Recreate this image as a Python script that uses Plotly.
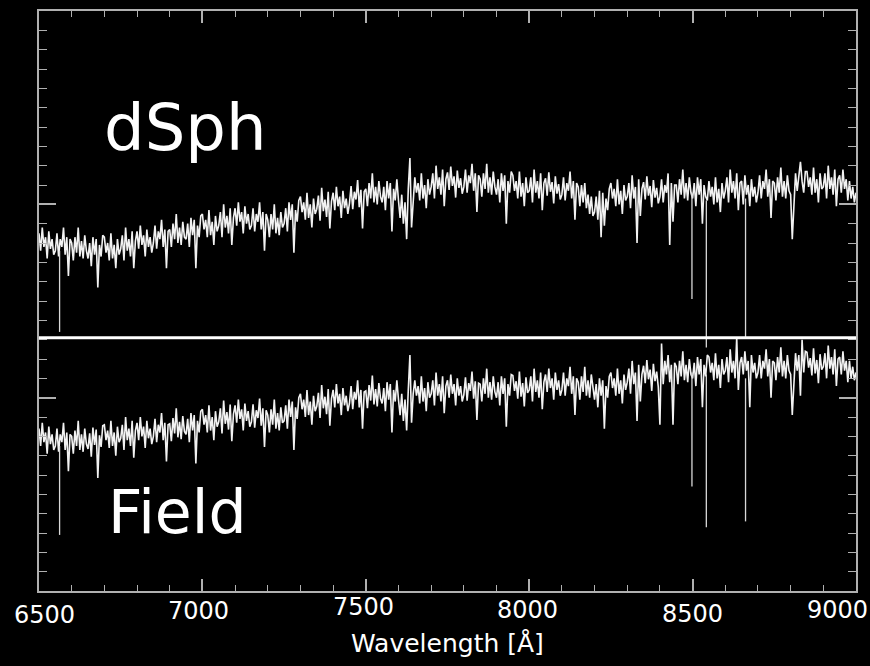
import numpy as np
import plotly.graph_objects as go

# ---- data: flux in offset units (dSph spectrum shifted above the Field one), 5 A sampling ----
wave_start, wave_step = 6500, 5
dsph_flux = [
    18.5, 17.6, 18.8, 17.8, 18.3, 17.2, 18.6, 17.7, 18.2, 17.4,
    17.6, 18.5, 17.3, 18.2, 17.8, 18.8, 17.4, 18.3, 16.3, 18.2,
    18.0, 17.1, 18.3, 17.5, 18.8, 17.3, 18.1, 17.2, 18.4, 17.6,
    17.2, 18.0, 16.8, 18.3, 17.4, 18.2, 15.7, 17.9, 17.3, 18.4,
    18.3, 17.5, 18.0, 17.1, 18.5, 17.2, 17.9, 16.7, 18.2, 17.4,
    17.7, 18.4, 17.1, 18.8, 17.6, 18.2, 17.3, 18.6, 16.7, 18.1,
    18.6, 17.7, 18.9, 17.9, 18.4, 17.3, 18.7, 17.8, 18.3, 17.5,
    18.0, 18.9, 17.7, 18.6, 18.2, 19.2, 17.8, 18.7, 16.7, 18.6,
    18.7, 17.8, 19.0, 18.2, 19.5, 18.0, 18.8, 17.9, 19.1, 18.3,
    18.2, 19.0, 17.8, 19.3, 18.4, 19.2, 16.7, 18.9, 18.3, 19.4,
    19.5, 18.7, 19.2, 18.3, 19.7, 18.4, 19.1, 17.9, 19.4, 18.6,
    18.9, 19.6, 18.3, 20.0, 18.8, 19.4, 18.5, 19.8, 17.9, 19.3,
    19.8, 18.9, 20.1, 19.1, 19.6, 18.5, 19.9, 19.0, 19.5, 18.7,
    18.9, 19.8, 18.6, 19.5, 19.1, 20.1, 18.7, 19.6, 17.6, 19.5,
    19.2, 18.3, 19.5, 18.7, 20.0, 18.5, 19.3, 18.4, 19.6, 18.8,
    19.0, 19.8, 18.6, 20.1, 19.2, 20.0, 17.5, 19.7, 19.1, 20.2,
    20.4, 19.6, 20.1, 19.2, 20.6, 19.3, 20.0, 18.8, 20.3, 19.5,
    19.75, 20.45, 19.15, 20.85, 19.65, 20.25, 19.35, 20.65, 18.75, 20.15,
    20.6, 19.7, 20.9, 19.9, 20.4, 19.3, 20.7, 19.8, 20.3, 19.5,
    20.05, 20.95, 19.75, 20.65, 20.25, 21.25, 19.85, 20.75, 18.75, 20.65,
    20.8, 19.9, 21.1, 20.3, 21.6, 20.1, 20.9, 20.0, 21.2, 20.4,
    20.1, 20.9, 19.7, 21.2, 20.3, 21.1, 18.6, 20.8, 20.2, 21.3,
    20.2, 19.3, 20.5, 19.0, 20.1, 18.2, 20.8, 22.4, 18.8, 20.4,
    21.4, 20.6, 21.1, 20.2, 21.6, 20.3, 21.0, 19.8, 21.3, 20.5,
    20.9, 21.6, 20.3, 22.0, 20.8, 21.4, 20.5, 21.8, 19.9, 21.3,
    21.65, 20.75, 21.95, 20.95, 21.45, 20.35, 21.75, 20.85, 21.35, 20.55,
    20.9, 21.8, 20.6, 21.5, 21.1, 22.1, 20.7, 21.6, 19.6, 21.5,
    21.3, 20.4, 21.6, 20.8, 22.1, 20.6, 21.4, 20.5, 21.7, 20.9,
    20.5, 21.3, 20.1, 21.6, 20.7, 21.5, 19.0, 21.2, 20.6, 21.7,
    21.5, 20.7, 21.2, 20.3, 21.7, 20.4, 21.1, 19.9, 21.4, 20.6,
    20.7, 21.4, 20.1, 21.8, 20.6, 21.2, 20.3, 21.6, 19.7, 21.1,
    21.35, 20.45, 21.65, 20.65, 21.15, 20.05, 21.45, 20.55, 21.05, 20.25,
    20.5, 21.4, 20.2, 21.1, 20.7, 21.7, 20.3, 21.2, 19.2, 21.1,
    20.9, 19.9, 21.0, 20.1, 21.1, 19.8, 20.5, 19.5, 20.4, 19.4,
    19.6, 20.4, 19.2, 20.7, 18.3, 20.6, 18.9, 20.3, 19.7, 20.8,
    21.1, 20.3, 20.8, 19.9, 21.3, 20.0, 20.7, 19.5, 21.0, 20.2,
    20.4, 21.1, 19.8, 21.5, 20.3, 20.9, 18.0, 21.3, 19.4, 20.8,
    21.15, 20.25, 21.45, 20.45, 20.95, 19.85, 21.25, 20.35, 20.85, 20.05,
    20.4, 21.3, 20.1, 21.0, 20.6, 21.6, 17.9, 21.1, 19.1, 21.0,
    21.0, 20.1, 21.3, 20.5, 21.8, 20.3, 21.1, 20.2, 21.4, 20.6,
    20.3, 21.1, 19.9, 21.4, 20.5, 21.3, 19.0, 21.0, 20.4, 20.2,
    21.2, 20.4, 20.9, 20.0, 21.4, 20.1, 20.8, 19.6, 21.1, 20.3,
    20.7, 21.4, 20.1, 21.8, 20.6, 21.2, 20.3, 21.6, 19.7, 21.1,
    21.2, 20.0, 21.5, 20.5, 21.0, 19.9, 21.3, 20.4, 20.9, 20.1,
    20.6, 21.5, 20.3, 21.2, 20.8, 21.8, 20.4, 21.3, 19.3, 21.2,
    21.1, 20.2, 21.4, 20.6, 21.9, 20.4, 21.2, 20.3, 21.5, 20.7,
    20.5, 18.2, 20.1, 21.6, 20.7, 21.5, 22.2, 21.2, 20.6, 21.7,
    21.7, 20.9, 21.4, 20.5, 21.9, 20.6, 21.3, 20.1, 21.6, 20.8,
    20.9, 21.6, 20.3, 22.0, 20.8, 21.4, 20.5, 21.8, 19.9, 21.3,
    21.5, 20.6, 21.8, 20.8, 21.3, 20.2, 21.2, 20.3, 20.9, 20.1,
    20.6,
]
field_flux = [
    8.4, 7.5, 8.7, 7.7, 8.2, 7.1, 8.5, 7.6, 8.1, 7.3,
    7.5, 8.4, 7.2, 8.1, 7.7, 8.7, 7.3, 8.2, 6.2, 8.1,
    8.0, 7.1, 8.3, 7.5, 8.8, 7.3, 8.1, 7.2, 8.4, 7.6,
    7.35, 8.15, 6.95, 8.45, 7.55, 8.35, 5.85, 8.05, 7.45, 8.55,
    8.6, 7.8, 8.3, 7.4, 8.8, 7.5, 8.2, 7.0, 8.5, 7.7,
    7.9, 8.6, 7.3, 9.0, 7.8, 8.4, 7.5, 8.8, 6.9, 8.3,
    8.7, 7.8, 9.0, 8.0, 8.5, 7.4, 8.8, 7.9, 8.4, 7.6,
    8.0, 8.9, 7.7, 8.6, 8.2, 9.2, 7.8, 8.7, 6.7, 8.6,
    8.65, 7.75, 8.95, 8.15, 9.45, 7.95, 8.75, 7.85, 9.05, 8.25,
    8.1, 8.9, 7.7, 9.2, 8.3, 9.1, 6.6, 8.8, 8.2, 9.3,
    9.4, 8.6, 9.1, 8.2, 9.6, 8.3, 9.0, 7.8, 9.3, 8.5,
    8.75, 9.45, 8.15, 9.85, 8.65, 9.25, 8.35, 9.65, 7.75, 9.15,
    9.6, 8.7, 9.9, 8.9, 9.4, 8.3, 9.7, 8.8, 9.3, 8.5,
    8.75, 9.65, 8.45, 9.35, 8.95, 9.95, 8.55, 9.45, 7.45, 9.35,
    9.1, 8.2, 9.4, 8.6, 9.9, 8.4, 9.2, 8.3, 9.5, 8.7,
    8.8, 9.6, 8.4, 9.9, 9.0, 9.8, 7.3, 9.5, 8.9, 10.0,
    10.2, 9.4, 9.9, 9.0, 10.4, 9.1, 9.8, 8.6, 10.1, 9.3,
    9.55, 10.25, 8.95, 10.65, 9.45, 10.05, 9.15, 10.45, 8.55, 9.95,
    10.4, 9.5, 10.7, 9.7, 10.2, 9.1, 10.5, 9.6, 10.1, 9.3,
    9.7, 10.6, 9.4, 10.3, 9.9, 10.9, 9.5, 10.4, 8.4, 10.3,
    10.35, 9.45, 10.65, 9.85, 11.15, 9.65, 10.45, 9.55, 10.75, 9.95,
    9.7, 10.5, 9.3, 10.8, 9.9, 10.7, 8.2, 10.4, 9.8, 10.9,
    9.9, 9.1, 10.2, 8.8, 9.9, 8.3, 10.4, 12.2, 8.7, 10.2,
    10.9, 10.1, 10.6, 9.7, 11.1, 9.8, 10.5, 9.3, 10.8, 10.0,
    10.2, 10.9, 9.6, 11.3, 10.1, 10.7, 9.8, 11.1, 9.2, 10.6,
    10.9, 10.0, 11.2, 10.2, 10.7, 9.6, 11.0, 10.1, 10.6, 9.8,
    10.15, 11.05, 9.85, 10.75, 10.35, 11.35, 9.95, 10.85, 8.85, 10.75,
    10.7, 9.8, 11.0, 10.2, 11.5, 10.0, 10.8, 9.9, 11.1, 10.3,
    10.0, 10.8, 9.6, 11.1, 10.2, 11.0, 8.5, 10.7, 10.1, 11.2,
    11.15, 10.35, 10.85, 9.95, 11.35, 10.05, 10.75, 9.55, 11.05, 10.25,
    10.4, 11.1, 9.8, 11.5, 10.3, 10.9, 10.0, 11.3, 9.4, 10.8,
    11.2, 10.3, 11.5, 10.5, 11.0, 9.9, 11.3, 10.4, 10.9, 10.1,
    10.4, 11.3, 10.1, 11.0, 10.6, 11.6, 10.2, 11.1, 9.1, 11.0,
    10.8, 9.9, 11.1, 10.3, 11.6, 10.1, 10.9, 10.0, 11.2, 10.4,
    9.9, 10.7, 9.5, 11.0, 10.1, 10.9, 8.4, 10.6, 10.0, 11.1,
    11.3, 10.5, 11.0, 10.1, 11.5, 10.2, 10.9, 9.7, 11.2, 10.4,
    10.8, 11.5, 10.2, 11.9, 10.7, 11.3, 8.8, 11.7, 9.8, 11.2,
    11.65, 10.75, 11.95, 10.95, 11.45, 10.35, 11.75, 10.85, 11.35, 10.55,
    8.6, 12.8, 10.7, 11.9, 11.2, 12.2, 10.8, 11.7, 8.6, 11.8,
    11.6, 10.7, 11.9, 11.1, 12.4, 10.9, 11.7, 10.8, 12.0, 11.2,
    11.0, 11.8, 10.6, 12.1, 11.2, 12.0, 9.5, 11.7, 11.1, 12.2,
    12.1, 11.3, 11.8, 10.9, 12.3, 11.0, 11.7, 10.5, 12.0, 11.2,
    11.4, 12.1, 10.8, 12.5, 11.3, 11.9, 11.0, 13.1, 10.4, 11.8,
    12.1, 11.2, 12.4, 11.4, 11.9, 9.5, 12.2, 11.3, 11.8, 11.0,
    11.3, 12.2, 11.0, 11.9, 11.5, 12.5, 11.1, 12.0, 10.0, 11.9,
    11.8, 10.9, 12.1, 11.3, 12.6, 11.1, 11.9, 11.0, 12.2, 11.4,
    11.2, 9.1, 10.8, 12.3, 11.4, 12.2, 10.1, 13.0, 11.3, 12.4,
    12.35, 11.55, 12.05, 11.15, 12.55, 11.25, 11.95, 10.75, 12.25, 11.45,
    11.6, 12.3, 11.0, 12.7, 11.5, 12.1, 11.2, 12.5, 10.6, 12.0,
    12.1, 11.2, 12.4, 11.4, 11.9, 10.8, 11.9, 11.0, 11.6, 10.9,
    11.3,
]
# strong absorption lines (H-alpha, Ca II triplet): wavelength, top, bottom
line_wave = [6563, 8498, 8542, 8662]
dsph_line_top = [17.6, 20.6, 20.2, 20.3]
dsph_line_bottom = [13.4, 15.1, 12.6, 13.1]
field_line_top = [7.5, 11.3, 11.2, 11.0]
field_line_bottom = [2.9, 5.4, 3.3, 3.6]
separator_level = 13.1
panel_labels = ["dSph", "Field"]
x_ticks = [6500, 7000, 7500, 8000, 8500, 9000]
x_title = "Wavelength [Å]"

wave = wave_start + wave_step * np.arange(len(dsph_flux))


def segments(xs, tops, bottoms):
    x, y = [], []
    for a, t, b in zip(xs, tops, bottoms):
        x += [a, a, None]
        y += [t, b, None]
    return x, y


fig = go.Figure()
for flux, tops, bots in [(dsph_flux, dsph_line_top, dsph_line_bottom),
                         (field_flux, field_line_top, field_line_bottom)]:
    fig.add_trace(go.Scatter(x=wave, y=flux, mode="lines",
                             line=dict(color="#f2f2f2", width=1.6),
                             hoverinfo="skip", showlegend=False))
    lx, ly = segments(line_wave, tops, bots)
    fig.add_trace(go.Scatter(x=lx, y=ly, mode="lines",
                             line=dict(color="#d8d8d8", width=1.3),
                             hoverinfo="skip", showlegend=False))

fig.add_shape(type="line", xref="paper", x0=0, x1=1, yref="y",
              y0=separator_level, y1=separator_level,
              line=dict(color="white", width=3))

fig.add_annotation(x=6692, y=23.95, xref="x", yref="y", text=panel_labels[0],
                   showarrow=False, xanchor="left", yanchor="middle",
                   font=dict(size=64, color="white", family="DejaVu Sans"))
fig.add_annotation(x=6706, y=4.1, xref="x", yref="y", text=panel_labels[1],
                   showarrow=False, xanchor="left", yanchor="middle",
                   font=dict(size=60, color="white", family="DejaVu Sans"))

# tick labels drawn as text (they sit slightly uneven in the original)
label_shift = [(5, -3), (-4, 1), (-2, 5), (-2, 2), (0, -2), (-19, 2)]
for v, (dx, dy) in zip(x_ticks, label_shift):
    fig.add_annotation(x=v, y=0, xref="x", yref="paper", text=str(v),
                       showarrow=False, xanchor="center", yanchor="top",
                       xshift=dx, yshift=-5 + dy,
                       font=dict(size=24, color="white", family="DejaVu Sans"))
fig.add_annotation(x=0.5, y=0, xref="paper", yref="paper", text=x_title,
                   showarrow=False, xanchor="center", yanchor="middle",
                   yshift=-52,
                   font=dict(size=25, color="white", family="DejaVu Sans"))

axis_col = "#b0b0b0"
fig.update_layout(
    width=870, height=666,
    margin=dict(l=39, r=14, t=11, b=75),
    paper_bgcolor="black", plot_bgcolor="black",
    font=dict(family="DejaVu Sans", color="white", size=24),
    xaxis=dict(range=[6500, 9000], tickvals=x_ticks, showticklabels=False,
               automargin=False,
               showline=True, linecolor=axis_col, linewidth=1.5,
               mirror="ticks", ticks="inside", ticklen=12, tickwidth=1.5,
               tickcolor=axis_col, showgrid=False, zeroline=False,
               minor=dict(dtick=100, ticks="inside", ticklen=6,
                          tickcolor=axis_col, tickwidth=1.2)),
    yaxis=dict(range=[0, 30], dtick=10, tick0=0, automargin=False,
               showline=True, linecolor=axis_col, linewidth=1.5,
               mirror="ticks", ticks="inside", ticklen=17, tickwidth=1.5,
               tickcolor=axis_col, showgrid=False, zeroline=False,
               showticklabels=False,
               minor=dict(dtick=1, ticks="inside", ticklen=8,
                          tickcolor=axis_col, tickwidth=1.2)),
)

fig.write_html("out.html")
